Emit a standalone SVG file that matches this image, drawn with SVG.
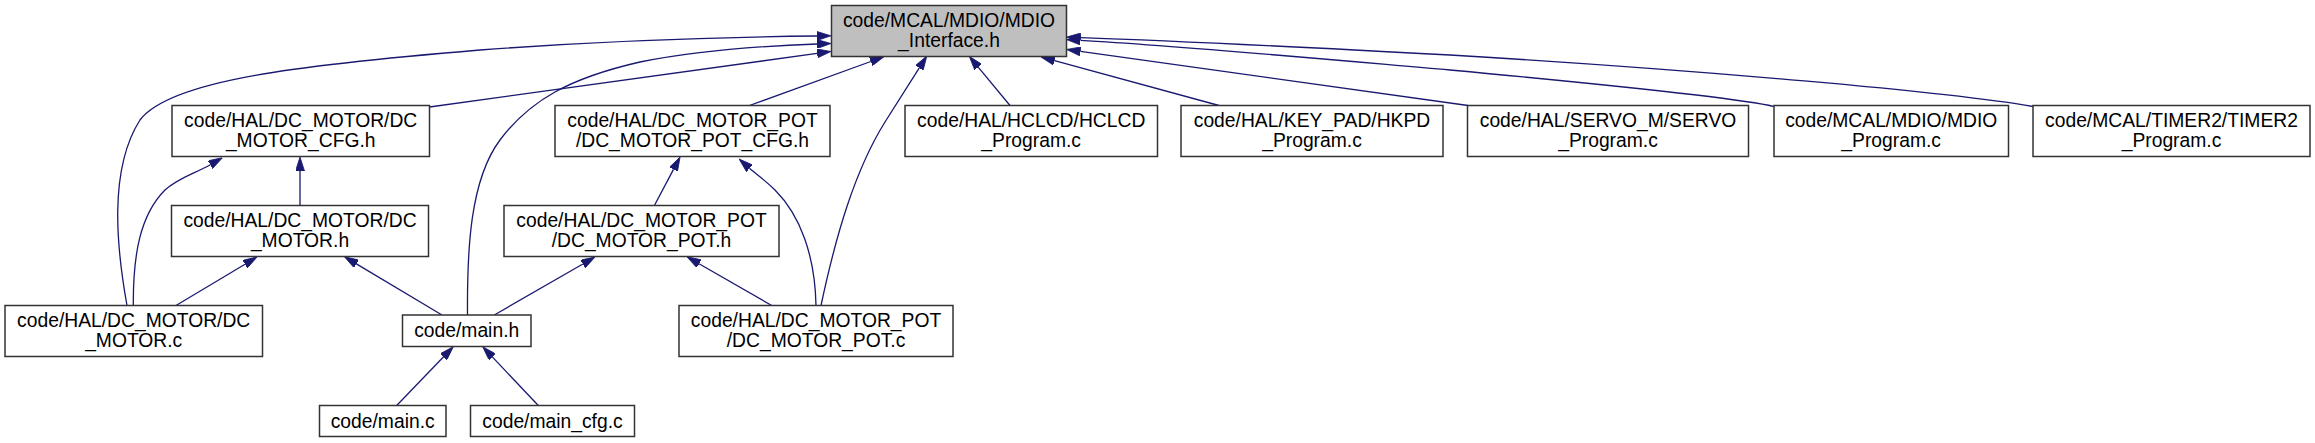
<svg xmlns="http://www.w3.org/2000/svg" width="2315" height="443" viewBox="0 0 2315 443">
<defs>
<style>
.n rect{fill:#ffffff;stroke:#333333;stroke-width:1.5}
#n_main rect{fill:#bfbfbf}
.n text{font-family:"Liberation Sans",Arial,sans-serif;font-size:19.3px;fill:#000000;text-anchor:middle}
.e path{fill:none;stroke:#191970;stroke-width:1.3;marker-end:url(#arr)}
</style>
<marker id="arr" markerUnits="userSpaceOnUse" viewBox="0 0 14 9" refX="0" refY="4.5" markerWidth="14" markerHeight="9" orient="auto">
<path d="M0,0 L14,4.5 L0,9 z" fill="#191970" stroke="#191970" stroke-width="0.8"/>
</marker>
</defs>
<rect width="2315" height="443" fill="#ffffff"/>
<g id="edges" class="e">
<path d="M127,305.5 C117,250 108,170 140,120 C170,80 300,65 480,50 C600,41 720,37 817,36"/>
<path d="M467.5,315 C467,250 470,180 500,140 C530,100 570,78 640,62 C700,50 760,46 817,44"/>
<path d="M429.5,107 L817.1,53.4"/>
<path d="M749.5,105.5 L870.8,61.5"/>
<path d="M821,305.5 C836,235 855,170 885,122 L919.3,67.9"/>
<path d="M1010,105.5 L978.2,67.1"/>
<path d="M1219,105.5 L1054.5,60.7"/>
<path d="M1468,105.5 L1080.4,51.4"/>
<path d="M1773.5,106.5 C1740,98 1600,84 1450,70 C1300,57 1180,46 1080.5,40.4"/>
<path d="M2033,106.5 C1950,92 1700,70 1450,55 C1300,47 1180,41 1080.5,37.6"/>
<path d="M300,205.5 L300,171"/>
<path d="M133.3,305.5 C133,255 140,215 165,190 C178,178 195,173.5 210.3,164.7"/>
<path d="M176,305.5 L245,264.2"/>
<path d="M442,315 L356.4,263.9"/>
<path d="M654.4,205.5 L673.5,169.4"/>
<path d="M494.3,315 L582.9,264"/>
<path d="M771.7,305.5 L699,263.7"/>
<path d="M816,305.5 C815,255 800,215 775,190 C765,180 757,175 749.5,168.3"/>
<path d="M396.7,405.5 L443.6,356.8"/>
<path d="M538.3,405.5 L492.3,356.9"/>
</g>
<g id="n_main" class="n"><rect x="831.5" y="5.5" width="235" height="51"/><text x="949" y="26.5">code/MCAL/MDIO/MDIO</text><text x="949" y="46.5">_Interface.h</text></g>
<g id="n_dcm_cfg" class="n"><rect x="172" y="105.5" width="257.5" height="51"/><text x="300.7" y="126.5">code/HAL/DC_MOTOR/DC</text><text x="300.7" y="146.5">_MOTOR_CFG.h</text></g>
<g id="n_pot_cfg" class="n"><rect x="555" y="105.5" width="275" height="51"/><text x="692.5" y="126.5">code/HAL/DC_MOTOR_POT</text><text x="692.5" y="146.5">/DC_MOTOR_POT_CFG.h</text></g>
<g id="n_hclcd" class="n"><rect x="905" y="105.5" width="252.5" height="51"/><text x="1031.2" y="126.5">code/HAL/HCLCD/HCLCD</text><text x="1031.2" y="146.5">_Program.c</text></g>
<g id="n_hkpd" class="n"><rect x="1181" y="105.5" width="262" height="51"/><text x="1312" y="126.5">code/HAL/KEY_PAD/HKPD</text><text x="1312" y="146.5">_Program.c</text></g>
<g id="n_servo" class="n"><rect x="1467.5" y="105.5" width="281" height="51"/><text x="1608" y="126.5">code/HAL/SERVO_M/SERVO</text><text x="1608" y="146.5">_Program.c</text></g>
<g id="n_mdio" class="n"><rect x="1774" y="105.5" width="234.5" height="51"/><text x="1891.2" y="126.5">code/MCAL/MDIO/MDIO</text><text x="1891.2" y="146.5">_Program.c</text></g>
<g id="n_timer2" class="n"><rect x="2033" y="105.5" width="277" height="51"/><text x="2171.5" y="126.5">code/MCAL/TIMER2/TIMER2</text><text x="2171.5" y="146.5">_Program.c</text></g>
<g id="n_dcm_h" class="n"><rect x="171.5" y="205.5" width="257" height="51"/><text x="300" y="226.5">code/HAL/DC_MOTOR/DC</text><text x="300" y="246.5">_MOTOR.h</text></g>
<g id="n_pot_h" class="n"><rect x="504" y="205.5" width="275" height="51"/><text x="641.5" y="226.5">code/HAL/DC_MOTOR_POT</text><text x="641.5" y="246.5">/DC_MOTOR_POT.h</text></g>
<g id="n_dcm_c" class="n"><rect x="5" y="305.5" width="257.5" height="51"/><text x="133.7" y="326.5">code/HAL/DC_MOTOR/DC</text><text x="133.7" y="346.5">_MOTOR.c</text></g>
<g id="n_main_h" class="n"><rect x="402.5" y="315" width="128.5" height="31.5"/><text x="466.7" y="337.3">code/main.h</text></g>
<g id="n_pot_c" class="n"><rect x="679" y="305.5" width="274" height="51"/><text x="816" y="326.5">code/HAL/DC_MOTOR_POT</text><text x="816" y="346.5">/DC_MOTOR_POT.c</text></g>
<g id="n_main_c" class="n"><rect x="319.5" y="405.5" width="126.5" height="31"/><text x="382.7" y="427.5">code/main.c</text></g>
<g id="n_main_cfg" class="n"><rect x="470.5" y="405.5" width="164" height="31"/><text x="552.5" y="427.5">code/main_cfg.c</text></g>
</svg>
